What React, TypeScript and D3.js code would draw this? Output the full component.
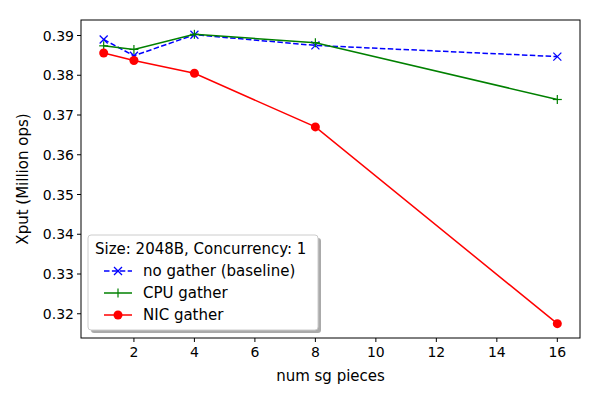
import React from "react";
import * as d3 from "d3";

const xs = [1, 2, 4, 8, 16];
const noGather = [0.389, 0.3849, 0.3902, 0.3875, 0.3847];
const cpuGather = [0.3874, 0.3865, 0.3903, 0.3882, 0.3739];
const nicGather = [0.3856, 0.3837, 0.3805, 0.367, 0.3175];
const xTicks = [2, 4, 6, 8, 10, 12, 14, 16];
const yTicks = [0.32, 0.33, 0.34, 0.35, 0.36, 0.37, 0.38, 0.39];

export default function App() {
  const W = 600, H = 400, L = 81, R = 580, T = 20, B = 338;
  const x = d3.scaleLinear().domain([0.25, 16.75]).range([L, R]);
  const y = d3.scaleLinear().domain([0.3139, 0.3939]).range([B, T]);
  const line = d3.line<number>().x((_, i) => x(xs[i])).y((d) => y(d));
  const font = "DejaVu Sans";
  return (
    <svg width={W} height={H} style={{ position: "absolute", left: 0, top: 0 }} fontFamily={font}>
      <rect width={W} height={H} fill="white" />
      <path d={line(noGather)!} fill="none" stroke="blue" strokeWidth={1.5} strokeDasharray="5.5,2.4" />
      {noGather.map((v, i) => (
        <g key={i} stroke="blue" strokeWidth={1.2}>
          <line x1={x(xs[i]) - 4} y1={y(v) - 4} x2={x(xs[i]) + 4} y2={y(v) + 4} />
          <line x1={x(xs[i]) - 4} y1={y(v) + 4} x2={x(xs[i]) + 4} y2={y(v) - 4} />
        </g>
      ))}
      <path d={line(cpuGather)!} fill="none" stroke="green" strokeWidth={1.5} />
      {cpuGather.map((v, i) => (
        <g key={i} stroke="green" strokeWidth={1.2}>
          <line x1={x(xs[i]) - 4.5} y1={y(v)} x2={x(xs[i]) + 4.5} y2={y(v)} />
          <line x1={x(xs[i])} y1={y(v) - 4.5} x2={x(xs[i])} y2={y(v) + 4.5} />
        </g>
      ))}
      <path d={line(nicGather)!} fill="none" stroke="red" strokeWidth={1.5} />
      {nicGather.map((v, i) => (
        <circle key={i} cx={x(xs[i])} cy={y(v)} r={4.5} fill="red" />
      ))}
      <rect x={L} y={T} width={R - L} height={B - T} fill="none" stroke="black" strokeWidth={1} />
      {xTicks.map((t) => (
        <g key={t}>
          <line x1={x(t)} x2={x(t)} y1={B} y2={B + 4} stroke="black" />
          <text x={x(t)} y={B + 19} fontSize={14} textAnchor="middle">{t}</text>
        </g>
      ))}
      {yTicks.map((t) => (
        <g key={t}>
          <line x1={L - 4} x2={L} y1={y(t)} y2={y(t)} stroke="black" />
          <text x={L - 7} y={y(t) + 5} fontSize={14} textAnchor="end">{t.toFixed(2)}</text>
        </g>
      ))}
      <text x={(L + R) / 2} y={381} fontSize={15} textAnchor="middle">num sg pieces</text>
      <text transform={`translate(28,${(T + B) / 2}) rotate(-90)`} fontSize={15} textAnchor="middle">Xput (Million ops)</text>
      <rect x={91} y={238} width={230} height={95} rx={3} fill="#555" opacity={0.5} />
      <rect x={88} y={235} width={230} height={95} rx={3} fill="white" stroke="#ccc" />
      <text x={95} y={254} fontSize={15}>Size: 2048B, Concurrency: 1</text>
      <line x1={104} x2={132} y1={271} y2={271} stroke="blue" strokeWidth={1.5} strokeDasharray="5.5,2.4" />
      <g stroke="blue" strokeWidth={1.2}>
        <line x1={114} y1={267} x2={122} y2={275} />
        <line x1={114} y1={275} x2={122} y2={267} />
      </g>
      <text x={143} y={276} fontSize={15}>no gather (baseline)</text>
      <line x1={104} x2={132} y1={293} y2={293} stroke="green" strokeWidth={1.5} />
      <line x1={118} x2={118} y1={288.5} y2={297.5} stroke="green" strokeWidth={1.2} />
      <text x={143} y={298} fontSize={15}>CPU gather</text>
      <line x1={104} x2={132} y1={315} y2={315} stroke="red" strokeWidth={1.5} />
      <circle cx={118} cy={315} r={4.5} fill="red" />
      <text x={143} y={320} fontSize={15}>NIC gather</text>
    </svg>
  );
}
